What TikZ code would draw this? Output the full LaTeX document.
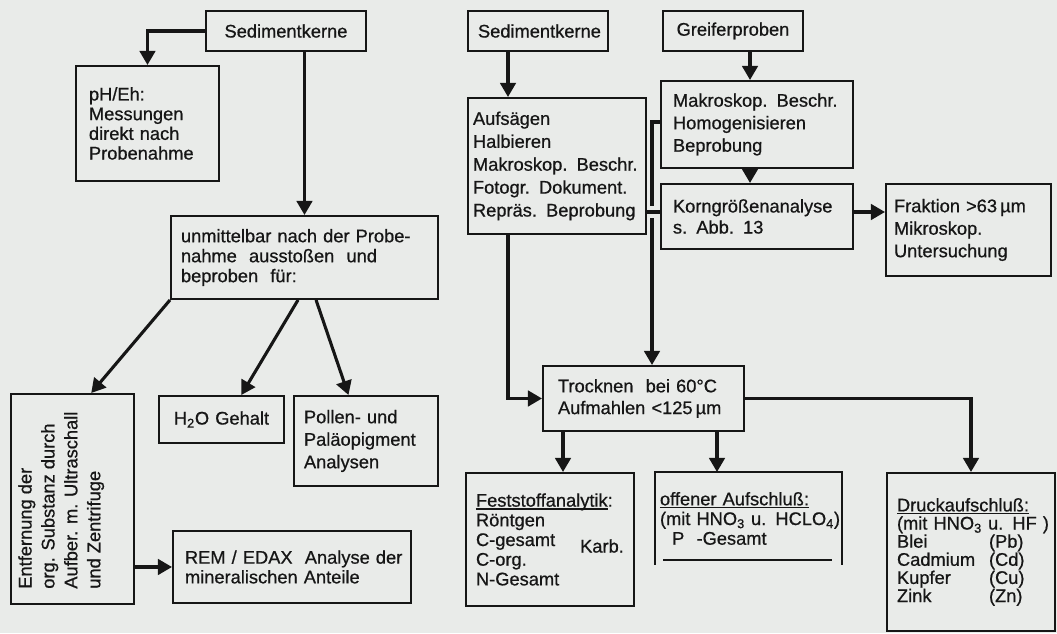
\documentclass[tikz,border=0pt]{standalone}
\usepackage{fontspec}
\setmainfont{Liberation Sans}[FakeBold=0.7]
\usetikzlibrary{arrows.meta, calc}

\definecolor{paper}{RGB}{233,235,233}
\definecolor{ink}{RGB}{22,22,22}

\newcommand{\ulin}[1]{\leavevmode\setbox0=\hbox{#1}\rlap{\rule[-2.2pt]{\wd0}{0.9pt}}\box0}

\tikzset{
  blk/.style={draw, line width=1.4pt, anchor=north west, align=left,
    inner xsep=0.25cm, inner ysep=0pt, font=\fontsize{13}{16}\selectfont},
  arr/.style={line width=2.2pt, -{Triangle[length=10pt,width=11pt]}},
  con/.style={line width=2.2pt}
}

\begin{document}
\begin{tikzpicture}[color=ink]
    % page %
      \fill[paper] (0,0) rectangle (26.425,-15.825);
      \useasboundingbox (0,0) rectangle (26.425,-15.825);

    % nodes %
      \node[blk, align=center, text width=3.5cm, minimum height=1cm] (sedL) at (5.125,-0.25) {Sedimentkerne};
      \node[blk, inner xsep=0.325cm, text width=2.925cm, minimum height=2.875cm,
        font=\fontsize{13}{14}\selectfont] (ph) at (1.875,-1.625) {pH/Eh:\\Messungen\\direkt nach\\Probenahme};
      \node[blk, text width=6.175cm, minimum height=2.075cm, font=\fontsize{13}{14.2}\selectfont] (unm) at (4.25,-5.375)
        {unmittelbar nach der Probe-\\nahme \ ausstoßen \ und\\beproben \ für:};
      \node[blk, minimum width=3.075cm, minimum height=5.25cm, inner sep=0pt] (ent) at (0.25,-9.825) {};
      \node[rotate=90, anchor=north west, align=left, inner sep=0pt, font=\fontsize{13}{16.3}\selectfont] (enttxt)
        at ($(ent.south west)+(0.2,0.4)$) {Entfernung der\\org. Substanz durch\\Aufber. m. Ultraschall\\und Zentrifuge};
      \node[blk, align=center, text width=2.625cm, minimum height=1.175cm] (h2o) at (3.95,-9.875) {H\textsubscript{2}O Gehalt};
      \node[blk, text width=3.1cm, minimum height=2.25cm] (pol) at (7.325,-9.875) {Pollen- und\\Paläopigment\\Analysen};
      \node[blk, inner xsep=0.3cm, text width=5.35cm, minimum height=1.8cm, font=\fontsize{13}{14}\selectfont] (rem)
        at (4.3,-13.25) {\mbox{REM / EDAX \ Analyse der}\\mineralischen Anteile};

      \node[blk, align=center, text width=3.0cm, minimum height=1cm] (sedM) at (11.675,-0.25) {Sedimentkerne};
      \node[blk, inner xsep=0.125cm, text width=4.2cm, minimum height=3.4cm, font=\fontsize{13}{16.3}\selectfont] (auf)
        at (11.675,-2.425) {Aufsägen\\Halbieren\\Makroskop. Beschr.\\Fotogr. Dokument.\\Repräs. Beprobung};
      \node[blk, align=center, text width=3.0cm, minimum height=1cm] (grf) at (16.55,-0.25) {Greiferproben};
      \node[blk, inner xsep=0.3cm, text width=4.2cm, minimum height=2.175cm] (mak) at (16.5,-2.0)
        {Makroskop. Beschr.\\Homogenisieren\\Beprobung};
      \node[blk, inner xsep=0.3cm, text width=4.2cm, minimum height=1.625cm, font=\fontsize{13}{15}\selectfont] (korn)
        at (16.5,-4.575) {Korngrößenanalyse\\s. Abb. 13};
      \node[blk, inner xsep=0.2cm, text width=3.725cm, minimum height=2.3cm] (frk) at (22.125,-4.575)
        {Fraktion >63\,µm\\Mikroskop.\\Untersuchung};

      \node[blk, inner xsep=0.375cm, text width=4.275cm, minimum height=1.625cm, font=\fontsize{13}{15.5}\selectfont] (tro)
        at (13.55,-9.125) {Trocknen \ bei 60°C\\Aufmahlen <125\,µm};
      \node[blk, text width=3.7cm, minimum height=3.325cm, font=\fontsize{13}{14}\selectfont] (fest) at (11.625,-11.8)
        {\ulin{Feststoffanalytik}:\\Röntgen\\C-gesamt\\C-org.\\N-Gesamt};
      \node[inner sep=0pt, font=\fontsize{13}{14}\selectfont] (karb) at (15.05,-13.65) {Karb.};
      \node[blk, draw=none, inner xsep=0.1cm, text width=4.425cm, minimum height=2.275cm, font=\fontsize{13}{14}\selectfont] (off)
        at (16.375,-11.8) {\ulin{offener Aufschluß:}\\\mbox{(mit HNO\textsubscript{3} u. HCLO\textsubscript{4})}\\\ \ P \ -Gesamt};
      \node[blk, text width=3.7cm, minimum height=3.95cm, font=\fontsize{13}{12.9}\selectfont] (druck) at (22.15,-11.8)
        {\ulin{Druckaufschluß:}\\\mbox{(mit HNO\textsubscript{3} u. HF )}\\\makebox[2.3cm][l]{Blei}(Pb)\\\makebox[2.3cm][l]{Cadmium}(Cd)\\
         \makebox[2.3cm][l]{Kupfer}(Cu)\\\makebox[2.3cm][l]{Zink}(Zn)};

      % open box %
      \draw[line width=1.4pt] (off.south west) -- (off.north west) -- (off.north east) -- (off.south east);
      \draw[line width=1.4pt] ($(off.south west)+(0.2,0.125)$) -- ($(off.south east)+(-0.25,0.125)$);

    % helper points %
      \coordinate (mcol) at (12.7,0);
      \coordinate (rcol) at (18.75,0);
      \coordinate (lcol) at (14.075,0);
      \coordinate (ocol) at (17.925,0);
      \coordinate (krow) at (0,-5.3);
      \coordinate (jtop) at (16.3,-3.05);
      \coordinate (jgap) at (16.3,-5.15);
      \coordinate (jbot) at (16.3,-5.45);

    % edges %
      \draw[arr] (sedL.west) -| (ph.north);
      \draw[arr] (unm.north |- sedL.south) -- (unm.north);
      \draw[arr] (unm.south west) -- ($(ent.north west)!0.65!(ent.north east)$);
      \draw[arr] ($(unm.south west)!0.476!(unm.south east)$) -- ($(h2o.north west)!0.656!(h2o.north east)$);
      \draw[arr] ($(unm.south west)!0.543!(unm.south east)$) -- ($(pol.north west)!0.38!(pol.north east)$);
      \draw[arr] (ent.east |- rem.west) -- (rem.west);

      \draw[arr] (sedM.south -| mcol) -- (auf.north -| mcol);
      \draw[arr] (grf.south -| rcol) -- (mak.north -| rcol);
      \draw[arr] (mak.south -| rcol) -- (korn.north -| rcol);
      \draw[arr] (korn.east |- krow) -- (frk.west |- krow);
      \draw[con] (auf.east |- krow) -- (korn.west |- krow);
      \draw[con] (mak.west |- jtop) -- (jtop) -- (jgap);
      \draw[arr] (jbot) -- (jbot |- tro.north);
      \draw[arr] (auf.south -| mcol) |- (tro.west);
      \draw[arr] (tro.east) -| (druck.north);
      \draw[arr] (tro.south -| lcol) -- (fest.north -| lcol);
      \draw[arr] (tro.south -| ocol) -- (off.north -| ocol);
    \end{tikzpicture}
\end{document}
